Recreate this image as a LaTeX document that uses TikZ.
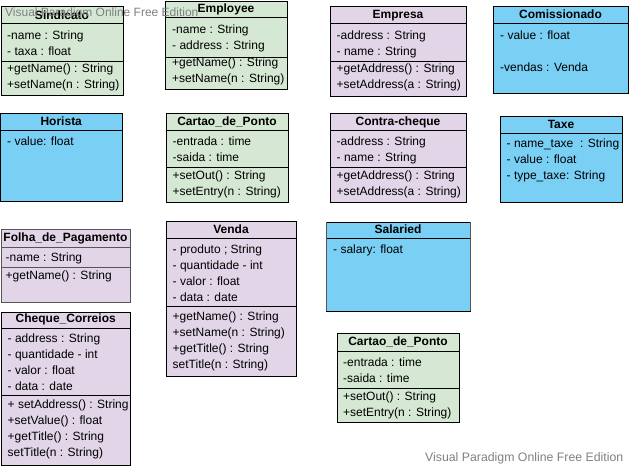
\documentclass[tikz,border=0pt]{standalone}
\usepackage{fontspec}
\setmainfont{Liberation Sans}
\definecolor{cgreen}{RGB}{213,232,212}
\definecolor{cpurple}{RGB}{225,213,231}
\definecolor{cblue}{RGB}{122,207,245}
\definecolor{wmgray}{RGB}{128,128,128}
\definecolor{bordergray}{RGB}{85,85,85}
\tikzset{
  umlbox/.style={draw=black, line width=1pt, inner sep=0pt, outer sep=0pt, anchor=north west},
  umlline/.style={draw=black, line width=1pt},
  umlttl/.style={anchor=base, inner sep=0pt, font=\bfseries\fontsize{12}{14}\selectfont},
  umltxt/.style={anchor=base west, inner sep=0pt, font=\fontsize{12}{14}\selectfont},
  wmark/.style={anchor=base west, inner sep=0pt, text=wmgray, font=\fontsize{12}{14}\selectfont},
  greenfill/.style={fill=cgreen},
  purplefill/.style={fill=cpurple},
  bluefill/.style={fill=cblue},
  folhafill/.style={fill=cpurple, draw=bordergray},
}
% #1 name, #2 style, #3 x1, #4 y1, #5 x2, #6 y2, #7 header y, #8 title baseline, #9 title
\newcommand{\umlcls}[9]{%
  \pgfmathsetmacro\umlbw{#5-#3}%
  \pgfmathsetmacro\umlbh{#6-#4}%
  \node[umlbox, #2, minimum width=\umlbw pt, minimum height=\umlbh pt] (#1) at (#3,#4) {};
  \draw[umlline, #2, fill=none] (#1.west |- 0,#7) -- (#1.east |- 0,#7);
  \node[umlttl] (#1-t) at ({(#3+#5)/2},#8) {#9};
}
\newcommand{\umlsep}[3][]{%
  \draw[umlline, #1] (#2.west |- 0,#3) -- (#2.east |- 0,#3);
}
% #1 name prefix, #2 x, #3 first baseline, #4 rows
\newcommand{\umlrows}[4]{%
  \foreach \rowtext [count=\i] in {#4} {
    \node[umltxt] (#1-\i) at (#2,{#3+16*(\i-1)}) {\rowtext};
  }
}
\begin{document}
\begin{tikzpicture}[x=1pt, y=-1pt]
\useasboundingbox (0,0) rectangle (629,466);

% Sindicato
\umlcls{sind}{greenfill}{1}{6}{123}{95}{23}{19.5}{Sindicato}
\umlsep{sind}{61}
\umlrows{sind-a}{7}{39}{-name : String, - taxa : float}
\umlrows{sind-m}{7}{72.5}{+getName() : String, +setName(n : String)}

% Employee
\umlcls{emp}{greenfill}{165}{1}{287}{89}{17}{12}{Employee}
\umlsep{emp}{57}
\umlrows{emp-a}{172}{33}{-name : String, - address : String}
\umlrows{emp-m}{172}{66.5}{+getName() : String, +setName(n : String)}

% Empresa
\umlcls{empr}{purplefill}{330}{6}{466}{96}{23}{18}{Empresa}
\umlsep{empr}{61}
\umlrows{empr-a}{336.5}{39}{-address : String, - name : String}
\umlrows{empr-m}{336.5}{72.5}{+getAddress() : String, +setAddress(a : String)}

% Comissionado
\umlcls{com}{bluefill}{493}{6}{628}{93}{23}{18.5}{Comissionado}
\umlrows{com-a}{500}{39}{- value : float}
\umlrows{com-b}{500}{71}{-vendas : Venda}

% Horista
\umlcls{hor}{bluefill}{0.5}{113}{122}{201}{130}{125}{Horista}
\umlrows{hor-a}{7}{145}{- value: float}

% Cartao_de_Ponto (1)
\umlcls{cp}{greenfill}{166}{113}{288}{202}{130}{125}{Cartao\_de\_Ponto}
\umlsep{cp}{167}
\umlrows{cp-a}{172.5}{145}{-entrada : time, -saida : time}
\umlrows{cp-m}{172.5}{179}{+setOut() : String, +setEntry(n : String)}

% Contra-cheque
\umlcls{cc}{purplefill}{330}{113}{466}{202}{130}{125}{Contra-cheque}
\umlsep{cc}{167}
\umlrows{cc-a}{336.5}{145}{-address : String, - name : String}
\umlrows{cc-m}{336.5}{179}{+getAddress() : String, +setAddress(a : String)}

% Taxe
\umlcls{tax}{bluefill}{500}{116}{622}{202}{133}{128}{Taxe}
\umlrows{tax-a}{506.5}{147.5}{- name\_taxe\ \ : String, - value : float, - type\_taxe: String}

% Folha_de_Pagamento
\umlcls{folha}{folhafill}{1}{229}{130}{302}{247}{241.5}{Folha\_de\_Pagamento}
\umlsep[draw=bordergray]{folha}{267}
\umlrows{folha-a}{5.5}{261}{-name : String}
\umlrows{folha-m}{5.5}{279}{+getName() : String}

% Venda
\umlcls{ven}{purplefill}{166}{221}{296}{376}{238}{233}{Venda}
\umlsep{ven}{306}
\umlrows{ven-a}{172.5}{253}{- produto ; String, - quantidade - int, - valor : float, - data : date}
\umlrows{ven-m}{172.5}{320}{+getName() : String, +setName(n : String), +getTitle() : String, setTitle(n : String)}

% Cheque_Correios
\umlcls{chq}{purplefill}{1.5}{312}{130}{465}{328}{322}{Cheque\_Correios}
\umlsep{chq}{395}
\umlrows{chq-a}{7.5}{342.5}{- address : String, - quantidade - int, - valor : float, - data : date}
\umlrows{chq-m}{7.5}{408.5}{+ setAddress() : String, +setValue() : float, +getTitle() : String, setTitle(n : String)}

% Salaried
\umlcls{sal}{bluefill}{326}{222}{470}{311}{238.5}{233}{Salaried}
\draw[line width=1pt, bordergray] (sal.north west) -- (sal.south west);
\draw[line width=1pt, bordergray] (sal.north east) -- (sal.south east);
\umlrows{sal-a}{333}{253.5}{- salary: float}

% Cartao_de_Ponto (2)
\umlcls{cp2}{greenfill}{337}{333}{459}{422}{351}{345.5}{Cartao\_de\_Ponto}
\umlsep{cp2}{388}
\umlrows{cp2-a}{343}{366}{-entrada : time, -saida : time}
\umlrows{cp2-m}{343}{400}{+setOut() : String, +setEntry(n : String)}

% watermarks
\node[wmark] (wm1) at (5,16.5) {Visual Paradigm Online Free Edition};
\node[wmark, font=\fontsize{12.3}{14}\selectfont] (wm2) at (425,461) {Visual Paradigm Online Free Edition};
\end{tikzpicture}
\end{document}
